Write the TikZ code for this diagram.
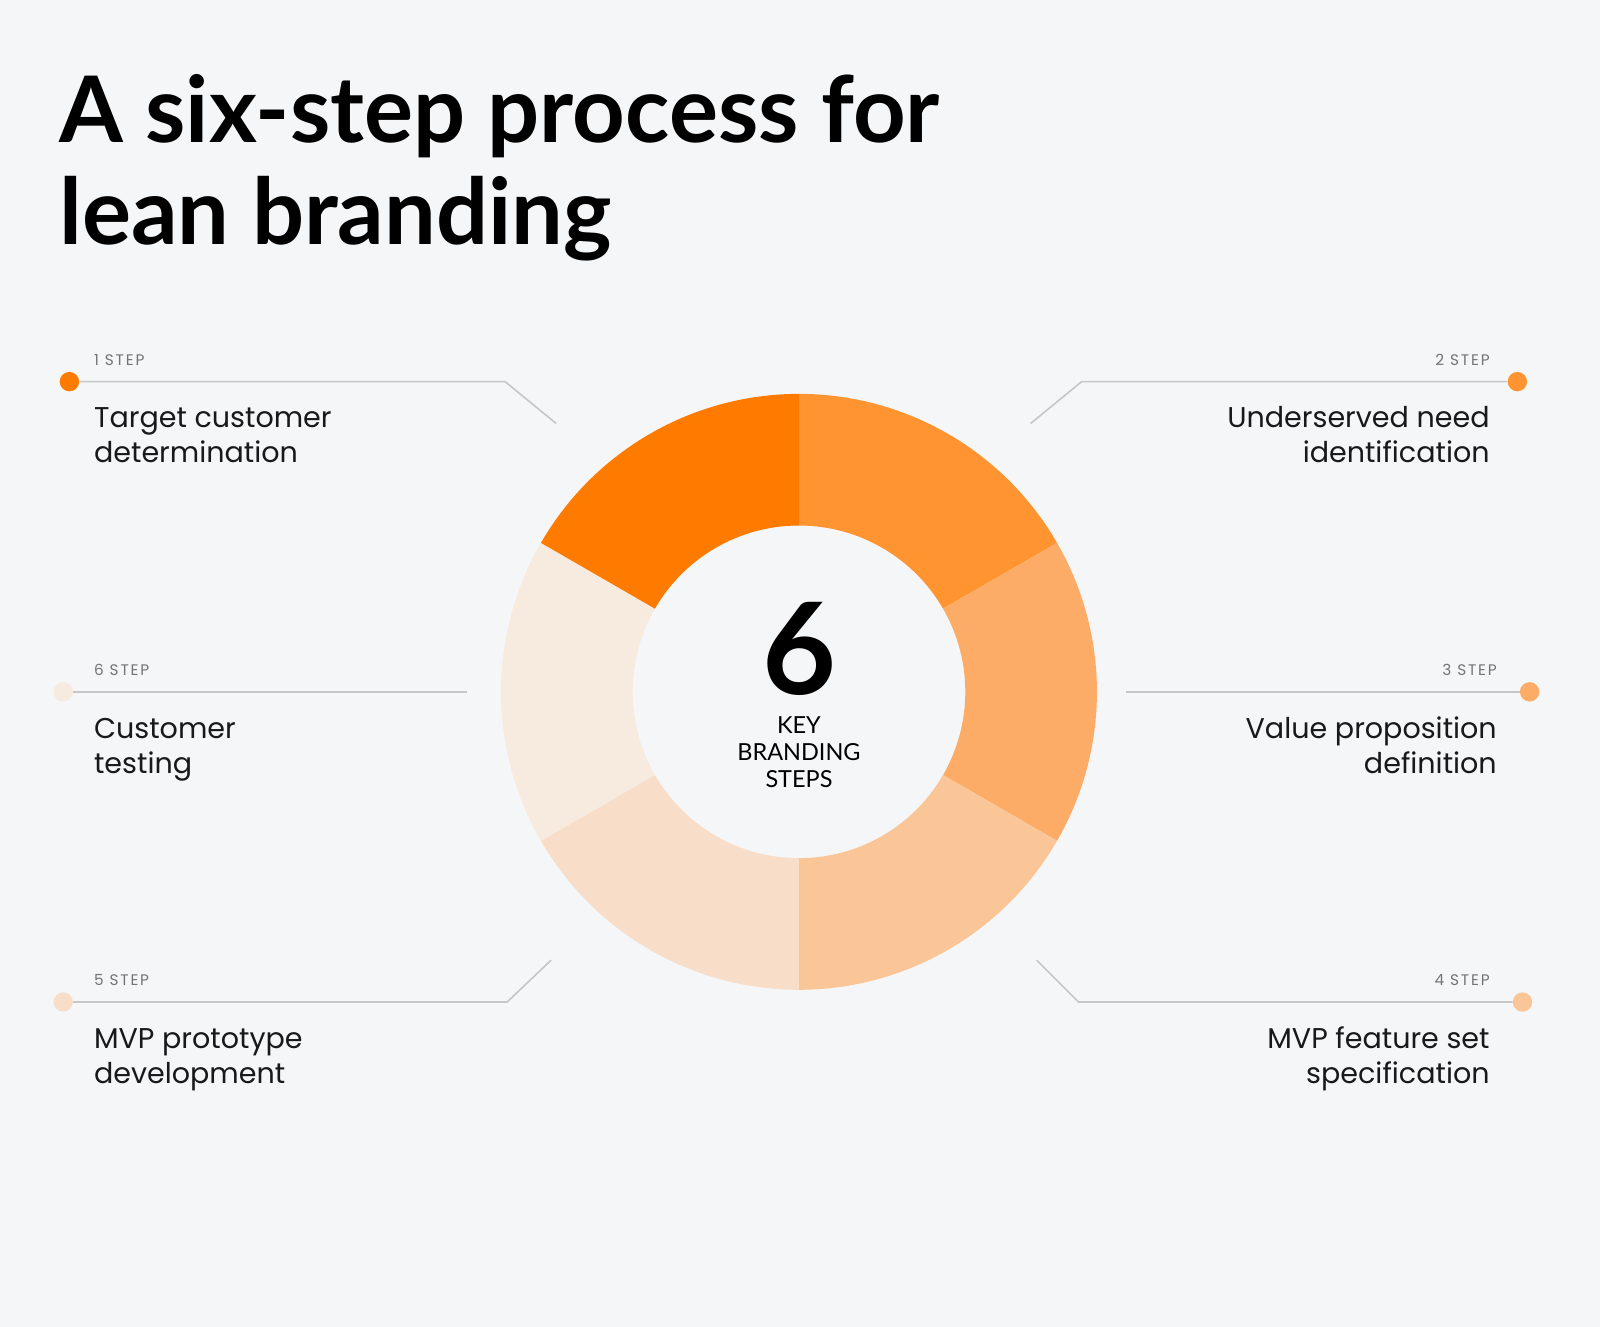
\documentclass[tikz,border=0pt]{standalone}
\usepackage{fontspec}
\usetikzlibrary{calc}
\setmainfont{Lato}
\newfontfamily\titlefont{Lato}
\newfontfamily\labfont{Poppins}
\newfontfamily\stepfont[LetterSpace=12]{Poppins}
\begin{document}
\begin{tikzpicture}[x=1pt,y=-1pt,
  lead/.style={draw=black!22,line width=1.6pt},
  dotc/.style={circle,inner sep=0pt,minimum size=19pt},
  stepl/.style={inner sep=0pt,text=black!55,font=\fontsize{15}{18}\selectfont\stepfont},
  lbl/.style={inner sep=0pt,align=left,font=\fontsize{28}{34}\selectfont\labfont,text=black!90},
  lblr/.style={lbl,align=right}]
\definecolor{bg}{HTML}{F5F6F8}
\definecolor{c1}{HTML}{FF7B00}
\definecolor{c2}{HTML}{FF9430}
\definecolor{c3}{HTML}{FCAC66}
\definecolor{c4}{HTML}{FAC698}
\definecolor{c5}{HTML}{F8DEC8}
\definecolor{c6}{HTML}{F7EADF}
\fill[bg] (0,0) rectangle (1568,1300);
\useasboundingbox (0,0) rectangle (1568,1300);
\node[anchor=base west,inner sep=0pt,font=\fontsize{90}{98}\selectfont\titlefont\bfseries] (title) at (58,140) {A six-step process for};
\node[anchor=base west,inner sep=0pt,font=\fontsize{90}{98}\selectfont\titlefont\bfseries] (title2) at (58,240) {lean branding};
\coordinate (c) at (783,678);
\foreach \a/\col in {-90/c2,-30/c3,30/c4,90/c5,150/c6,210/c1}{
  \fill[\col] ($(c)+(\a:292)$) arc[start angle=\a,end angle=\a+60,radius=292]
    -- ($(c)+(\a+60:163)$) arc[start angle=\a+60,end angle=\a,radius=163] -- cycle;
}
\node[inner sep=0pt,font=\fontsize{125}{130}\selectfont\bfseries] (six) at (783,636) {6};
\node[inner sep=0pt,align=center,font=\fontsize{23}{26.5}\selectfont] (key) at (783,737) {KEY\\BRANDING\\STEPS};
% step 1
\node[dotc,fill=c1] (d1) at (68,374) {};
\coordinate (k1) at (495,374); \coordinate (e1) at (545,415);
\draw[lead] (d1) -- (k1) -- (e1);
\node[stepl,anchor=base west] (s1) at (92,358) {1 STEP};
\node[lbl,anchor=base west] (t1) at (92,453) {Target customer\\determination};
% step 2
\node[dotc,fill=c2] (d2) at (1487,374) {};
\coordinate (k2) at (1060,374); \coordinate (e2) at (1010,415);
\draw[lead] (d2) -- (k2) -- (e2);
\node[stepl,anchor=base east] (s2) at (1460,358) {2 STEP};
\node[lblr,anchor=base east] (t2) at (1460,453) {Underserved need\\identification};
% step 3
\node[dotc,fill=c3] (d3) at (1499,678) {};
\coordinate (e3) at (1103,678);
\draw[lead] (d3) -- (e3);
\node[stepl,anchor=base east] (s3) at (1467,662) {3 STEP};
\node[lblr,anchor=base east] (t3) at (1467,758) {Value proposition\\definition};
% step 4
\node[dotc,fill=c4] (d4) at (1492,982) {};
\coordinate (k4) at (1057,982); \coordinate (e4) at (1016,941);
\draw[lead] (d4) -- (k4) -- (e4);
\node[stepl,anchor=base east] (s4) at (1460,966) {4 STEP};
\node[lblr,anchor=base east] (t4) at (1460,1062) {MVP feature set\\specification};
% step 5
\node[dotc,fill=c5] (d5) at (62,982) {};
\coordinate (k5) at (497,982); \coordinate (e5) at (540,941);
\draw[lead] (d5) -- (k5) -- (e5);
\node[stepl,anchor=base west] (s5) at (92,966) {5 STEP};
\node[lbl,anchor=base west] (t5) at (92,1062) {MVP prototype\\development};
% step 6
\node[dotc,fill=c6] (d6) at (62,678) {};
\coordinate (e6) at (458,678);
\draw[lead] (d6) -- (e6);
\node[stepl,anchor=base west] (s6) at (92,662) {6 STEP};
\node[lbl,anchor=base west] (t6) at (92,758) {Customer\\testing};
\end{tikzpicture}
\end{document}
